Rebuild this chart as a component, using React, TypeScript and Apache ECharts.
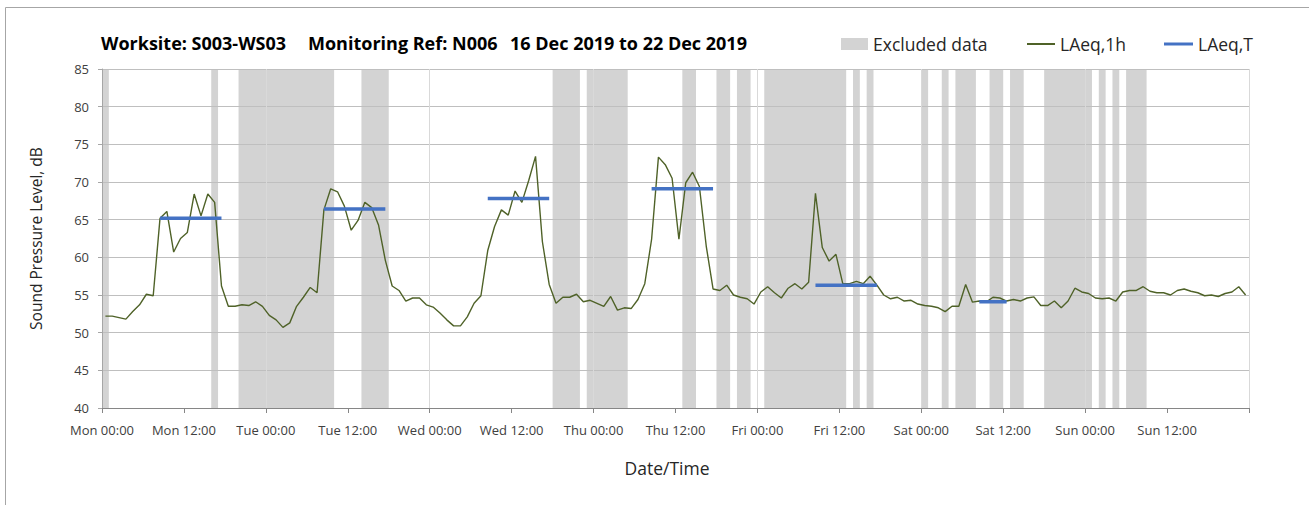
import React, { useEffect, useRef } from "react";
import * as echarts from "echarts";

// ---- data ----
const dayNames = ["Mon", "Tue", "Wed", "Thu", "Fri", "Sat", "Sun", "Mon"];
const halfDayLabels = ["00:00", "12:00"];

// hourly LAeq,1h values, Mon 00:00 (hour 0) .. Sun 23:00 (hour 167)
const laeq1h = [
  52.2, 52.2, 52.0, 51.8, 52.8, 53.7, 55.1, 54.9, 65.2, 66.1, 60.7, 62.5,
  63.3, 68.4, 65.5, 68.4, 67.3, 56.2, 53.5, 53.5, 53.7, 53.6, 54.1, 53.5,
  52.3, 51.7, 50.7, 51.3, 53.5, 54.7, 56.0, 55.3, 66.3, 69.1, 68.7, 66.8,
  63.6, 64.9, 67.3, 66.6, 64.3, 59.6, 56.2, 55.6, 54.2, 54.6, 54.6, 53.7,
  53.4, 52.6, 51.7, 50.9, 50.9, 52.1, 53.9, 54.9, 60.9, 64.1, 66.3, 65.6,
  68.8, 67.3, 70.2, 73.4, 62.1, 56.4, 53.9, 54.7, 54.7, 55.1, 54.1, 54.3,
  53.9, 53.5, 54.8, 53.0, 53.3, 53.2, 54.4, 56.5, 62.4, 73.3, 72.3, 70.5,
  62.4, 69.9, 71.3, 69.4, 61.5, 55.8, 55.6, 56.3, 55.0, 54.7, 54.5, 53.8,
  55.4, 56.1, 55.3, 54.6, 55.9, 56.5, 55.8, 56.7, 68.5, 61.3, 59.5, 60.4,
  56.5, 56.5, 56.8, 56.5, 57.5, 56.3, 55.0, 54.5, 54.7, 54.2, 54.3, 53.8,
  53.6, 53.5, 53.3, 52.8, 53.5, 53.5, 56.4, 54.05, 54.2, 54.05, 54.7, 54.6,
  54.2, 54.4, 54.2, 54.6, 54.75, 53.6, 53.6, 54.2, 53.3, 54.2, 55.9, 55.4,
  55.2, 54.6, 54.5, 54.6, 54.2, 55.4, 55.6, 55.6, 56.1, 55.5, 55.3, 55.3,
  55.0, 55.6, 55.8, 55.5, 55.3, 54.9, 55.0, 54.8, 55.2, 55.4, 56.1, 55.0,
];

// excluded periods, in hours from Mon 00:00
const excludedStart = [0, 16, 20, 38, 66, 71, 85, 90, 93, 97, 110, 112, 120, 123, 125, 130, 133, 138, 146, 148, 150];
const excludedEnd = [1, 17, 34, 42, 70, 77, 87, 92, 95, 109, 111, 113, 121, 124, 128, 132, 135, 145, 147, 149, 153];

// LAeq,T periods (first and last hour index) and levels
const laeqTStart = [8, 32, 56, 80, 104, 128];
const laeqTEnd = [17, 41, 65, 89, 113, 132];
const laeqTValue = [65.2, 66.4, 67.8, 69.1, 56.3, 54.1];

const Y_MIN = 40;
const Y_MAX = 85;
const HOURS = 168;

const FONT = "'Open Sans', sans-serif";

export default function App() {
  const ref = useRef<HTMLDivElement | null>(null);

  useEffect(() => {
    if (!ref.current) return;
    const chart = echarts.init(ref.current, undefined, { renderer: "svg" });

    const lineData = laeq1h.map((v, h) => [h + 0.5, v]);
    const tData: any[] = [];
    laeqTStart.forEach((s, i) => {
      if (i > 0) tData.push("-");
      tData.push([s + 0.5, laeqTValue[i]]);
      tData.push([laeqTEnd[i] + 0.5, laeqTValue[i]]);
    });
    const bands = excludedStart.map((s, i) => [s, excludedEnd[i]]);

    const legendText = { fontSize: 17.5, color: "#262626", fontFamily: FONT };
    const titleStyle = { fontSize: 18, fontWeight: "bold", fill: "#000000", fontFamily: FONT, align: "left", verticalAlign: "middle" };

    const option: any = {
      animation: false,
      backgroundColor: "#ffffff",
      textStyle: { fontFamily: FONT },
      grid: { left: 102, top: 69, width: 1147, height: 339, containLabel: false },
      legend: [
        {
          data: [{ name: "Excluded data", icon: "rect" }],
          left: 841, top: 35, padding: 0, itemWidth: 27, itemHeight: 12,
          selectedMode: false, textStyle: legendText,
        },
        {
          data: [{ name: "LAeq,1h", icon: "rect" }],
          left: 1027, top: 35, padding: 0, itemWidth: 28, itemHeight: 2,
          selectedMode: false, textStyle: legendText,
        },
        {
          data: [{ name: "LAeq,T", icon: "rect" }],
          left: 1164, top: 35, padding: 0, itemWidth: 29, itemHeight: 3,
          selectedMode: false, textStyle: legendText,
        },
      ],
      xAxis: [
        {
          type: "value", min: 0, max: HOURS, interval: 12,
          axisLine: { show: true, lineStyle: { color: "#868686" } },
          axisTick: { show: true, length: 5, lineStyle: { color: "#868686" } },
          axisLabel: {
            fontSize: 13, color: "#404040", margin: 15, fontFamily: FONT,
            formatter: (v: number) => {
              if (v >= HOURS) return "";
              const d = Math.floor(v / 24);
              const half = Math.round((v % 24) / 12);
              return dayNames[d] + " " + halfDayLabels[half];
            },
          },
          splitLine: { show: false },
        },
        {
          type: "value", min: 0, max: HOURS, interval: 24, position: "bottom",
          axisLine: { show: false }, axisTick: { show: false }, axisLabel: { show: false },
          splitLine: { show: true, lineStyle: { color: "#d9d9d9", width: 1 } },
        },
      ],
      yAxis: {
        type: "value", min: Y_MIN, max: Y_MAX, interval: 5,
        axisLine: { show: true, lineStyle: { color: "#a6a6a6" } },
        axisTick: { show: true, length: 4, lineStyle: { color: "#a6a6a6" } },
        axisLabel: { fontSize: 13, color: "#404040", margin: 13, fontFamily: FONT },
        splitLine: { show: true, lineStyle: { color: "#bfbfbf", width: 1 } },
      },
      series: [
        {
          name: "Excluded data",
          type: "custom",
          z: -1,
          silent: true,
          itemStyle: { color: "#d3d3d3" },
          encode: { x: [0, 1] },
          data: bands,
          renderItem: (params: any, api: any) => {
            const p0 = api.coord([api.value(0), Y_MAX]);
            const p1 = api.coord([api.value(1), Y_MIN]);
            return {
              type: "rect",
              shape: { x: p0[0], y: p0[1], width: p1[0] - p0[0], height: p1[1] - p0[1] },
              style: { fill: "#d3d3d3" },
            };
          },
        },
        {
          name: "LAeq,1h",
          type: "line",
          data: lineData,
          showSymbol: false,
          symbol: "none",
          z: 3,
          color: "#4f6228",
          lineStyle: { color: "#4f6228", width: 1.4 },
          itemStyle: { color: "#4f6228" },
        },
        {
          name: "LAeq,T",
          type: "line",
          data: tData,
          showSymbol: false,
          symbol: "none",
          connectNulls: false,
          z: 4,
          color: "#4472c4",
          lineStyle: { color: "#4472c4", width: 3.5 },
          itemStyle: { color: "#4472c4" },
        },
      ],
      graphic: [
        { type: "line", silent: true, shape: { x1: 5.5, y1: 7.5, x2: 1309, y2: 7.5 }, style: { stroke: "#a6a6a6", lineWidth: 1 } },
        { type: "line", silent: true, shape: { x1: 5.5, y1: 7.5, x2: 5.5, y2: 505 }, style: { stroke: "#a6a6a6", lineWidth: 1 } },
        { type: "text", x: 101, y: 43, style: { ...titleStyle, text: "Worksite: S003-WS03" } },
        { type: "text", x: 308, y: 43, style: { ...titleStyle, text: "Monitoring Ref: N006" } },
        { type: "text", x: 510, y: 43, style: { ...titleStyle, text: "16 Dec 2019 to 22 Dec 2019" } },
        { type: "text", x: 36, y: 238.5, rotation: Math.PI / 2, style: { text: "Sound Pressure Level, dB", fontSize: 15.5, fill: "#262626", fontFamily: FONT, align: "center", verticalAlign: "middle" } },
        { type: "text", x: 667, y: 468, style: { text: "Date/Time", fontSize: 17.5, fill: "#262626", fontFamily: FONT, align: "center", verticalAlign: "middle" } },
      ],
    };

    chart.setOption(option);
    return () => chart.dispose();
  }, []);

  return (
    <div
      ref={ref}
      style={{ position: "fixed", left: 0, top: 0, width: 1309, height: 505, background: "#fff" }}
    />
  );
}
